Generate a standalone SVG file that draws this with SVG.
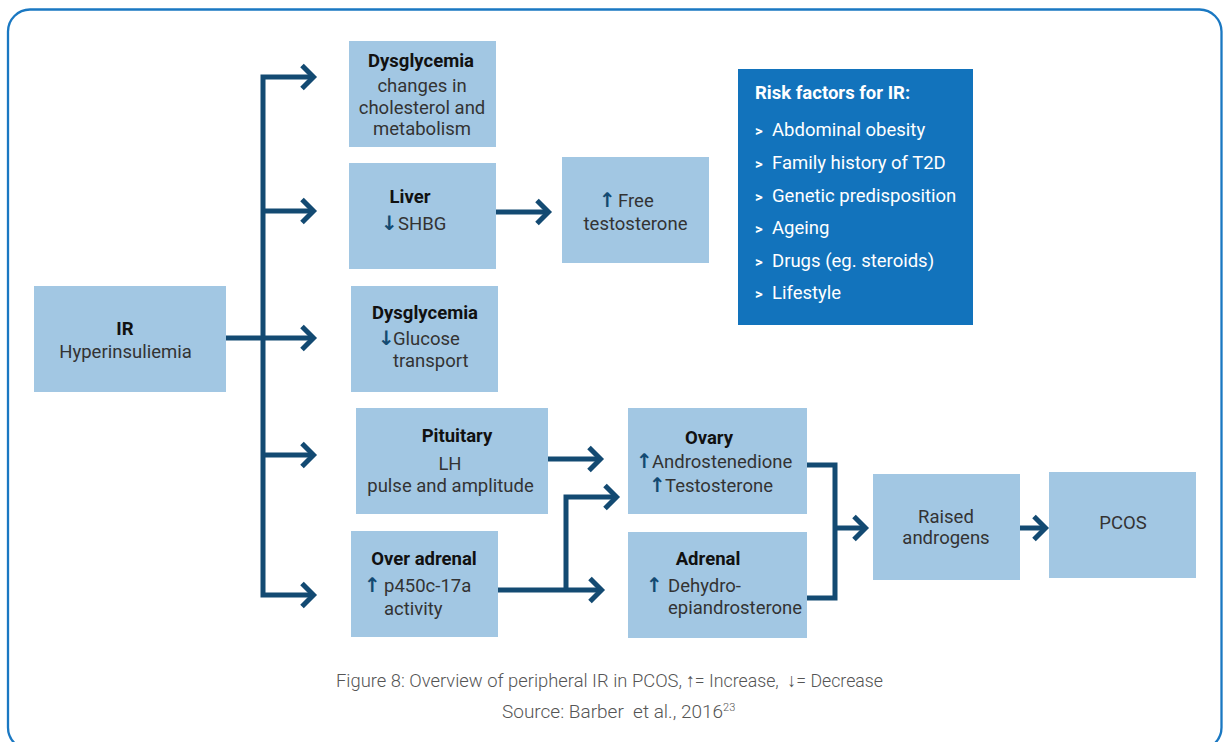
<svg xmlns="http://www.w3.org/2000/svg" width="1227" height="742" viewBox="0 0 1227 742">
  <defs>
    <style>
      .box { fill: #a2c7e3; }
      .t { font-family: Roboto, "Liberation Sans", sans-serif; font-size: 18.5px; fill: #333333; }
      .b { font-weight: 700; fill: #111111; }
      .c { text-anchor: middle; }
      .ar { font-family: "DejaVu Sans", sans-serif; font-weight: 700; font-size: 20px; fill: #134a72; }
      .conn { fill: none; stroke: #134a72; stroke-width: 5; stroke-linejoin: miter; }
      .risk { font-family: Roboto, "Liberation Sans", sans-serif; font-size: 18.5px; fill: #ffffff; }
      .bul { font-size: 15px; font-weight: 700; }
      .cap { font-family: Roboto, "Liberation Sans", sans-serif; font-weight: 300; font-size: 19px; fill: #555555; }
    </style>
    <marker id="ah" markerUnits="userSpaceOnUse" markerWidth="34" markerHeight="34" viewBox="-22 -17 34 34" refX="0" refY="0" orient="auto-start-reverse" overflow="visible">
      <path d="M-10,-11.5 L1.5,0 L-10,11.5" fill="none" stroke="#134a72" stroke-width="5" stroke-linejoin="miter"/>
    </marker>
  </defs>

  <rect width="1227" height="742" fill="#ffffff"/>
  <!-- frame -->
  <rect x="8" y="9.5" width="1213.5" height="740" rx="22" ry="22" fill="none" stroke="#1a78c2" stroke-width="2.3"/>

  <!-- connectors -->
  <g id="connectors">
    <path class="conn" d="M312,77 H263 V595 H312" marker-start="url(#ah)" marker-end="url(#ah)"/>
    <path class="conn" d="M263,211 H312" marker-end="url(#ah)"/>
    <path class="conn" d="M226,338 H312" marker-end="url(#ah)"/>
    <path class="conn" d="M263,455 H312" marker-end="url(#ah)"/>
    <path class="conn" d="M496,212 H547" marker-end="url(#ah)"/>
    <path class="conn" d="M548,459 H599" marker-end="url(#ah)"/>
    <path class="conn" d="M498,590 H600" marker-end="url(#ah)"/>
    <path class="conn" d="M566,590 V497 H615" marker-end="url(#ah)"/>
    <path class="conn" d="M807,465 H835 V598 H807"/>
    <path class="conn" d="M835,528 H864" marker-end="url(#ah)"/>
    <path class="conn" d="M1020,528 H1044" marker-end="url(#ah)"/>
  </g>

  <g id="ir">
    <rect class="box" x="34" y="286" width="192" height="106"/>
    <text class="t b c" x="125" y="335">IR</text>
    <text class="t c" x="125.5" y="358">Hyperinsuliemia</text>
  </g>

  <g id="dysglycemia-lipids">
    <rect class="box" x="349" y="41" width="147" height="106"/>
    <text class="t b c" x="421" y="67">Dysglycemia</text>
    <text class="t c" x="422" y="92">changes in</text>
    <text class="t c" x="422" y="113.5">cholesterol and</text>
    <text class="t c" x="422" y="135">metabolism</text>
  </g>

  <g id="liver">
    <rect class="box" x="349" y="163" width="147" height="106"/>
    <text class="t b c" x="410" y="203">Liver</text>
    <text class="t" x="381" y="230"><tspan class="ar">↓</tspan><tspan x="398">SHBG</tspan></text>
  </g>

  <g id="free-testosterone">
    <rect class="box" x="562" y="157" width="147" height="106"/>
    <text class="t" x="599" y="207"><tspan class="ar">↑</tspan><tspan x="618">Free</tspan></text>
    <text class="t c" x="635.5" y="230">testosterone</text>
  </g>

  <g id="risk-factors">
    <rect x="738" y="69" width="235" height="256" fill="#1273bc"/>
    <text class="risk" x="755" y="99" font-weight="700">Risk factors for IR:</text>
    <g class="risk">
      <text x="755" y="136"><tspan class="bul">&gt;</tspan><tspan x="772">Abdominal obesity</tspan></text>
      <text x="755" y="169"><tspan class="bul">&gt;</tspan><tspan x="772">Family history of T2D</tspan></text>
      <text x="755" y="202"><tspan class="bul">&gt;</tspan><tspan x="772">Genetic predisposition</tspan></text>
      <text x="755" y="234"><tspan class="bul">&gt;</tspan><tspan x="772">Ageing</tspan></text>
      <text x="755" y="267"><tspan class="bul">&gt;</tspan><tspan x="772">Drugs (eg. steroids)</tspan></text>
      <text x="755" y="299"><tspan class="bul">&gt;</tspan><tspan x="772">Lifestyle</tspan></text>
    </g>
  </g>

  <g id="dysglycemia-glucose">
    <rect class="box" x="351" y="286" width="147" height="106"/>
    <text class="t b c" x="425" y="319">Dysglycemia</text>
    <text class="t" x="378" y="345"><tspan class="ar">↓</tspan><tspan x="393">Glucose</tspan></text>
    <text class="t" x="393" y="367">transport</text>
  </g>

  <g id="pituitary">
    <rect class="box" x="356" y="408" width="192" height="106"/>
    <text class="t b c" x="457" y="442">Pituitary</text>
    <text class="t c" x="450" y="470">LH</text>
    <text class="t c" x="450.5" y="492">pulse and amplitude</text>
  </g>

  <g id="over-adrenal">
    <rect class="box" x="351" y="531" width="147" height="106"/>
    <text class="t b c" x="424" y="565">Over adrenal</text>
    <text class="t" x="364" y="592"><tspan class="ar">↑</tspan><tspan x="384">p450c-17a</tspan></text>
    <text class="t" x="384" y="615">activity</text>
  </g>

  <g id="ovary">
    <rect class="box" x="628" y="408" width="179" height="106"/>
    <text class="t b c" x="709" y="444">Ovary</text>
    <text class="t" x="636" y="468"><tspan class="ar">↑</tspan><tspan x="652">Androstenedione</tspan></text>
    <text class="t" x="649" y="492"><tspan class="ar">↑</tspan><tspan x="665">Testosterone</tspan></text>
  </g>

  <g id="adrenal">
    <rect class="box" x="628" y="532" width="179" height="106"/>
    <text class="t b c" x="708" y="565">Adrenal</text>
    <text class="t" x="646" y="592"><tspan class="ar">↑</tspan><tspan x="668">Dehydro-</tspan></text>
    <text class="t" x="668" y="614">epiandrosterone</text>
  </g>

  <g id="raised-androgens">
    <rect class="box" x="873" y="474" width="147" height="106"/>
    <text class="t c" x="946" y="523">Raised</text>
    <text class="t c" x="946" y="544">androgens</text>
  </g>

  <g id="pcos">
    <rect class="box" x="1049" y="472" width="147" height="106"/>
    <text class="t c" x="1123" y="529">PCOS</text>
  </g>

  <!-- caption -->
  <g id="caption">
    <text class="cap" x="336" y="687" textLength="346" lengthAdjust="spacingAndGlyphs">Figure 8: Overview of peripheral IR in PCOS,</text>
    <text class="cap" x="686" y="687" font-size="16" textLength="197" lengthAdjust="spacingAndGlyphs" xml:space="preserve">↑= Increase,  ↓= Decrease</text>
    <text class="cap" x="502" y="718" xml:space="preserve">Source: Barber  et al., 2016<tspan font-size="11" dy="-7">23</tspan></text>
  </g>
</svg>
